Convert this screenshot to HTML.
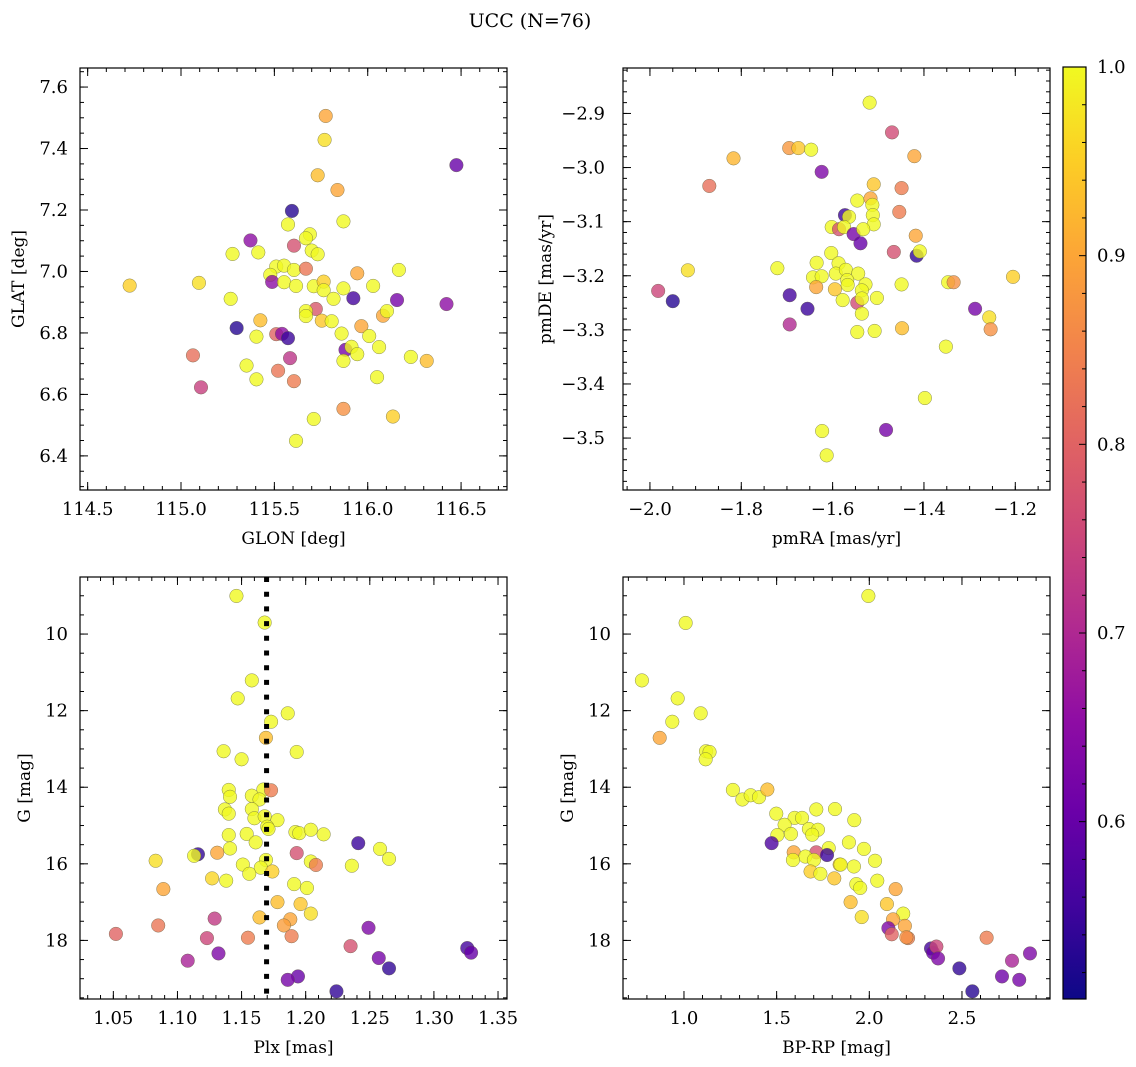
<!DOCTYPE html>
<html><head><meta charset="utf-8"><style>
body{margin:0;background:#fff;}
svg{display:block;font-family:"DejaVu Serif","Liberation Serif",serif;}
</style></head><body>
<svg id="fig" width="1136" height="1067" viewBox="0 0 1136 1067">
<defs>
<linearGradient id="plasmaGrad" x1="0" y1="1" x2="0" y2="0">
<stop offset="0" stop-color="#0d0887"/><stop offset="0.1" stop-color="#41049d"/><stop offset="0.2" stop-color="#6a00a8"/><stop offset="0.3" stop-color="#8f0da4"/><stop offset="0.4" stop-color="#b12a90"/><stop offset="0.5" stop-color="#cc4778"/><stop offset="0.6" stop-color="#e16462"/><stop offset="0.7" stop-color="#f2844b"/><stop offset="0.8" stop-color="#fca636"/><stop offset="0.9" stop-color="#fcce25"/><stop offset="1" stop-color="#f0f921"/>
</linearGradient>
</defs>
<text x="530" y="27" font-size="19" text-anchor="middle">UCC (N=76)</text>
</svg>
<script>
// ---- Panel 1: GLON vs GLAT ----
const p1Glon=[115.775,115.769,115.732,115.838,116.475,115.594,115.573,115.870,115.690,115.669,115.372,115.605,115.276,115.414,115.700,115.732,115.510,115.552,115.605,115.669,115.478,115.488,115.552,115.616,115.944,116.167,114.725,115.096,115.711,115.764,115.764,115.870,116.029,115.266,115.817,115.923,116.157,116.422,115.722,115.669,115.669,116.082,116.103,115.425,115.754,115.807,115.966,115.298,115.404,115.510,115.541,115.573,115.860,116.008,115.881,115.913,115.944,116.061,115.064,115.351,115.584,116.231,116.316,115.870,115.107,115.404,115.520,115.605,116.050,115.870,115.711,116.135,115.616];
const p1Glat=[7.506,7.428,7.313,7.265,7.346,7.197,7.153,7.163,7.121,7.108,7.101,7.084,7.057,7.062,7.068,7.056,7.016,7.019,7.005,7.009,6.989,6.966,6.965,6.953,6.994,7.005,6.954,6.963,6.952,6.967,6.939,6.945,6.953,6.911,6.911,6.913,6.907,6.894,6.878,6.871,6.855,6.856,6.871,6.841,6.840,6.838,6.822,6.816,6.788,6.796,6.797,6.783,6.798,6.790,6.745,6.755,6.731,6.754,6.727,6.694,6.718,6.722,6.709,6.709,6.623,6.649,6.677,6.643,6.656,6.553,6.520,6.528,6.449];
const p1Prob=[0.9,0.97,0.93,0.9,0.6,0.53,1,1,1,1,0.65,0.77,1,1,1,1,1,1,1,0.83,1,0.65,1,1,0.9,1,0.95,0.97,1,0.95,1,1,1,1,1,0.56,0.62,0.65,0.78,1,1,0.9,1,0.93,0.94,1,0.9,0.53,1,0.8,0.65,0.55,1,1,0.62,1,1,1,0.82,1,0.72,1,0.93,1,0.74,1,0.83,0.84,1,0.87,1,0.95,1];
// ---- Panel 2: pmRA vs pmDE ----
const p2Pmra=[-1.519,-1.470,-1.695,-1.675,-1.647,-1.817,-1.421,-1.624,-1.870,-1.510,-1.449,-1.546,-1.517,-1.513,-1.512,-1.454,-1.573,-1.564,-1.510,-1.602,-1.586,-1.575,-1.554,-1.533,-1.539,-1.418,-1.466,-1.416,-1.409,-1.603,-1.635,-1.587,-1.721,-1.917,-1.205,-1.643,-1.624,-1.593,-1.571,-1.544,-1.636,-1.568,-1.528,-1.449,-1.347,-1.335,-1.595,-1.567,-1.536,-1.982,-1.694,-1.578,-1.546,-1.536,-1.503,-1.950,-1.655,-1.288,-1.536,-1.257,-1.254,-1.694,-1.546,-1.508,-1.448,-1.352,-1.398,-1.623,-1.483,-1.613];
const p2Pmde=[-2.880,-2.935,-2.964,-2.964,-2.967,-2.983,-2.979,-3.008,-3.034,-3.031,-3.038,-3.061,-3.057,-3.069,-3.088,-3.082,-3.088,-3.091,-3.105,-3.110,-3.114,-3.110,-3.123,-3.114,-3.140,-3.126,-3.156,-3.163,-3.155,-3.158,-3.176,-3.177,-3.186,-3.190,-3.202,-3.203,-3.201,-3.196,-3.189,-3.196,-3.221,-3.208,-3.216,-3.216,-3.212,-3.212,-3.225,-3.217,-3.227,-3.228,-3.236,-3.245,-3.250,-3.242,-3.241,-3.247,-3.261,-3.261,-3.270,-3.277,-3.299,-3.290,-3.304,-3.302,-3.297,-3.331,-3.426,-3.487,-3.485,-3.532];
const p2Prob=[1,0.76,0.88,0.94,1,0.92,0.9,0.63,0.82,0.94,0.84,1,0.9,1,1,0.84,0.55,1,1,1,0.77,1,0.62,1,0.6,0.9,0.77,0.54,1,1,1,1,1,0.97,0.95,1,1,1,1,1,0.9,1,1,1,1,0.87,0.94,1,1,0.75,0.56,1,0.76,1,1,0.53,0.55,0.62,1,0.97,0.87,0.7,1,1,0.93,1,1,1,0.62,1];
// ---- Panel 3: Plx vs G ----
const p3Plx=[1.146,1.168,1.158,1.147,1.186,1.173,1.169,1.136,1.150,1.193,1.140,1.141,1.167,1.173,1.158,1.164,1.137,1.140,1.158,1.160,1.168,1.178,1.170,1.171,1.192,1.195,1.204,1.214,1.140,1.154,1.161,1.141,1.241,1.258,1.265,1.116,1.113,1.131,1.083,1.193,1.169,1.204,1.208,1.236,1.151,1.165,1.174,1.156,1.127,1.138,1.089,1.191,1.201,1.178,1.196,1.204,1.164,1.188,1.183,1.085,1.129,1.052,1.123,1.155,1.189,1.249,1.235,1.132,1.108,1.257,1.265,1.326,1.329,1.194,1.186,1.224];
const p3G=[9.005,9.70,11.21,11.68,12.07,12.29,12.71,13.06,13.27,13.08,14.07,14.25,14.06,14.08,14.22,14.32,14.58,14.69,14.57,14.81,14.76,14.86,15.03,15.09,15.17,15.20,15.11,15.23,15.25,15.22,15.44,15.60,15.46,15.61,15.87,15.75,15.79,15.71,15.92,15.72,15.90,15.94,16.03,16.05,16.02,16.10,16.20,16.26,16.38,16.44,16.66,16.53,16.63,17.00,17.05,17.30,17.40,17.45,17.61,17.61,17.43,17.83,17.94,17.93,17.89,17.67,18.15,18.34,18.53,18.46,18.73,18.20,18.32,18.94,19.03,19.33];
const p3Prob=[1,1,1,1,1,1,0.93,1,1,1,1,1,1,0.84,1,1,1,1,1,1,1,1,1,1,1,1,1,1,1,1,1,1,0.55,1,1,0.54,1,0.9,0.97,0.77,1,1,0.84,1,1,1,0.95,1,0.96,1,0.9,1,1,0.93,0.94,0.97,0.93,0.9,0.89,0.83,0.73,0.8,0.75,0.84,0.84,0.63,0.77,0.63,0.69,0.62,0.54,0.56,0.6,0.6,0.62,0.54];
const plxMedian=[1.1695];
// ---- Panel 4: BP-RP vs G ----
const p4Bprp=[1.995,1.009,0.773,0.966,1.090,0.937,0.869,1.119,1.138,1.117,1.264,1.315,1.360,1.405,1.450,1.498,1.714,1.815,1.597,1.637,1.919,1.543,1.674,1.723,1.577,1.692,1.504,1.890,1.473,1.781,1.971,1.592,1.714,1.772,1.655,1.588,1.701,2.031,1.840,1.845,1.917,1.683,1.736,1.811,2.043,1.930,1.951,2.142,1.899,2.095,1.959,2.183,2.128,2.192,2.103,2.121,2.209,2.200,2.333,2.344,2.362,2.371,2.633,2.486,2.556,2.770,2.867,2.716,2.809];
const p4G=[9.005,9.71,11.21,11.68,12.07,12.29,12.71,13.06,13.08,13.27,14.07,14.32,14.21,14.26,14.06,14.69,14.58,14.57,14.80,14.80,14.86,14.98,15.09,15.11,15.22,15.24,15.25,15.44,15.46,15.59,15.61,15.70,15.70,15.77,15.81,15.90,15.90,15.92,16.02,16.02,16.07,16.20,16.26,16.38,16.44,16.53,16.63,16.66,17.00,17.05,17.39,17.30,17.45,17.62,17.68,17.84,17.94,17.92,18.21,18.32,18.16,18.47,17.93,18.73,19.33,18.53,18.34,18.94,19.03];
const p4Prob=[1,1,1,1,1,1,0.9,1,1,1,1,1,1,1,0.93,1,1,1,1,1,1,1,1,1,1,1,1,1,0.57,1,1,0.9,0.77,0.55,1,1,1,1,0.94,1,1,0.95,1,0.94,1,1,1,0.9,0.93,0.94,0.97,1,0.9,0.9,0.63,0.8,0.84,0.87,0.56,0.6,0.75,0.63,0.84,0.54,0.53,0.69,0.63,0.61,0.62];
// colorbar
const cbarTicks=[0.6,0.7,0.8,0.9,1.0];
const cbarMin=0.506, cbarMax=1.0;

const NS="http://www.w3.org/2000/svg";
const fig=document.getElementById('fig');
function mk(tag,attrs,parent){const e=document.createElementNS(NS,tag);for(const k in attrs)e.setAttribute(k,attrs[k]);(parent||fig).appendChild(e);return e;}
const stops=[[13,8,135],[65,4,157],[106,0,168],[143,13,164],[177,42,144],[204,71,120],[225,100,98],[242,132,75],[252,166,54],[252,206,37],[240,249,33]];
function plasma(v){let t=(v-cbarMin)/(cbarMax-cbarMin);t=Math.max(0,Math.min(1,t))*10;const i=Math.min(9,Math.floor(t)),f=t-i;const a=stops[i],b=stops[i+1];return `rgb(${Math.round(a[0]+(b[0]-a[0])*f)},${Math.round(a[1]+(b[1]-a[1])*f)},${Math.round(a[2]+(b[2]-a[2])*f)})`;}
function fmt(v,d){const s=v.toFixed(d);return s.replace('-','\u2212');}

function panel(cfg){
  const {name,L,R,T,B,xmin,xmax,ymin,ymax,invertY,xMaj,xMin,yMaj,yMin,xd,yd,xlab,ylab,xs,ys,ps,ylabX,yGap}=cfg;
  const g=mk('g',{});
  
  
  const sx=v=>L+(v-xmin)/(xmax-xmin)*(R-L);
  const sy=v=>invertY?T+(v-ymin)/(ymax-ymin)*(B-T):B-(v-ymin)/(ymax-ymin)*(B-T);
  const tg=mk('g',{stroke:'#000','stroke-width':1},g);
  
  
  function ticksOf(a,b,st){const r=[];for(let i=Math.ceil(a/st-1e-6);i<=Math.floor(b/st+1e-6);i++)r.push(i*st);return r;}
  ticksOf(xmin,xmax,xMin).forEach(v=>{const x=sx(v);mk('line',{x1:x,x2:x,y1:B,y2:B-4},tg);mk('line',{x1:x,x2:x,y1:T,y2:T+4},tg);});
  ticksOf(Math.min(ymin,ymax),Math.max(ymin,ymax),yMin).forEach(v=>{const y=sy(v);mk('line',{x1:L,x2:L+4,y1:y,y2:y},tg);mk('line',{x1:R,x2:R-4,y1:y,y2:y},tg);});
  ticksOf(xmin,xmax,xMaj).forEach(v=>{const x=sx(v);mk('line',{x1:x,x2:x,y1:B,y2:B-8},tg);mk('line',{x1:x,x2:x,y1:T,y2:T+8},tg);
    const t=mk('text',{x:x,y:B+25,'font-size':18,'text-anchor':'middle'},g);t.textContent=fmt(v,xd);
    
    });
  ticksOf(Math.min(ymin,ymax),Math.max(ymin,ymax),yMaj).forEach(v=>{const y=sy(v);mk('line',{x1:L,x2:L+8,y1:y,y2:y},tg);mk('line',{x1:R,x2:R-8,y1:y,y2:y},tg);
    const t=mk('text',{x:L-yGap,y:y+6,'font-size':18,'text-anchor':'end'},g);t.textContent=fmt(v,yd);
    
    });
  const pg=mk('g',{},g);
  
  
  xs.forEach((v,i)=>{const c=mk('circle',{cx:sx(v),cy:sy(ys[i]),r:6.8,fill:plasma(ps[i]),'fill-opacity':0.8,stroke:'#5a5a3a','stroke-width':0.5,'stroke-opacity':0.7},pg);
    
    });
  const fr=mk('rect',{x:L,y:T,width:R-L,height:B-T,fill:'none',stroke:'#000','stroke-width':1.2},g);
  
  
  const xl=mk('text',{x:(L+R)/2,y:B+54,'font-size':17,'text-anchor':'middle'},g);xl.textContent=xlab;
  
  
  const ylx=ylabX,yly=(T+B)/2;
  const yl=mk('text',{x:ylx,y:yly,'font-size':17,'text-anchor':'middle',transform:`rotate(-90 ${ylx} ${yly})`},g);yl.textContent=ylab;
  
  
  return {sx:sx,sy:sy,T:T,B:B};
}
panel({name:'glon-glat-panel',L:80,R:507,T:68,B:490,xmin:114.459,xmax:116.746,ymin:6.289,ymax:7.662,xMaj:0.5,xMin:0.1,yMaj:0.2,yMin:0.05,xd:1,yd:1,xlab:'GLON [deg]',ylab:'GLAT [deg]',xs:p1Glon,ys:p1Glat,ps:p1Prob,ylabX:24,yGap:12});
panel({name:'pm-panel',L:623,R:1050,T:68,B:490,xmin:-2.059,xmax:-1.124,ymin:-3.596,ymax:-2.816,xMaj:0.2,xMin:0.05,yMaj:0.1,yMin:0.02,xd:1,yd:1,xlab:'pmRA [mas/yr]',ylab:'pmDE [mas/yr]',xs:p2Pmra,ys:p2Pmde,ps:p2Prob,ylabX:551,yGap:18});
const p3=panel({name:'plx-g-panel',L:80,R:507,T:577,B:999,xmin:1.024,xmax:1.357,ymin:8.51,ymax:19.53,invertY:true,xMaj:0.05,xMin:0.01,yMaj:2,yMin:0.5,xd:2,yd:0,xlab:'Plx [mas]',ylab:'G [mag]',xs:p3Plx,ys:p3G,ps:p3Prob,ylabX:30,yGap:12});
panel({name:'cmd-panel',L:623,R:1050,T:577,B:999,xmin:0.671,xmax:2.975,ymin:8.51,ymax:19.53,invertY:true,xMaj:0.5,xMin:0.1,yMaj:2,yMin:0.5,xd:1,yd:0,xlab:'BP-RP [mag]',ylab:'G [mag]',xs:p4Bprp,ys:p4G,ps:p4Prob,ylabX:573,yGap:12});

// median parallax line (drawn on top)
const vx=p3.sx(plxMedian[0]);
const vline=mk('line',{x1:vx,x2:vx,y1:p3.T,y2:p3.B,stroke:'#000','stroke-width':5,'stroke-dasharray':'5 9.7'});



// colorbar
const cg=mk('g',{});


const CL=1063,CR=1086,CT=67,CB=999;
mk('rect',{x:CL,y:CT,width:CR-CL,height:CB-CT,fill:'url(#plasmaGrad)',stroke:'#000','stroke-width':1.2},cg);
const cy=v=>CB-(v-cbarMin)/(cbarMax-cbarMin)*(CB-CT);
for(let i=51;i<=100;i++){const v=i/100;const y=cy(v);const major=cbarTicks.some(t=>Math.abs(t-v)<1e-6);
  if(i%2===0||major){mk('line',{x1:CR,x2:CR-(major?7:4),y1:y,y2:y,stroke:'#000','stroke-width':1},cg);}}
cbarTicks.forEach(v=>{const t=mk('text',{x:CR+11,y:cy(v)+6,'font-size':18},cg);t.textContent=v.toFixed(1);
  
  });
</script>
</body></html>
